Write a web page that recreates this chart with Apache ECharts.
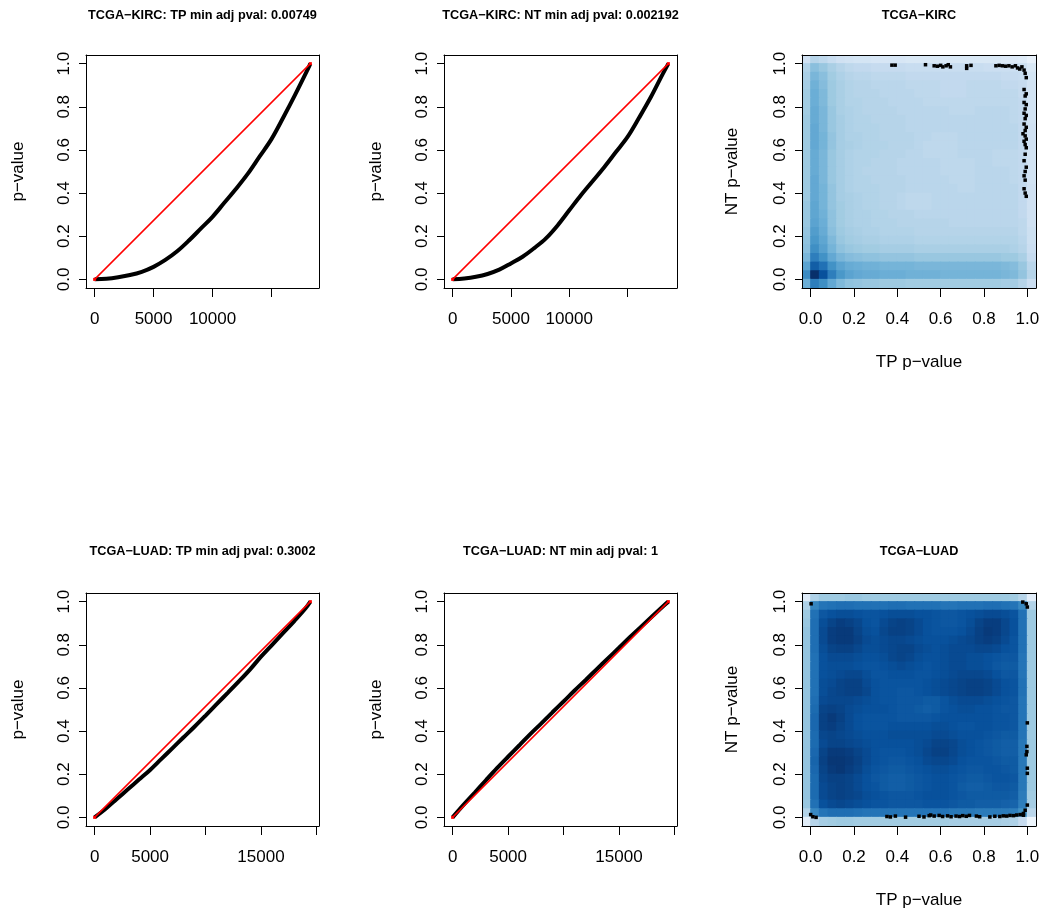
<!DOCTYPE html>
<html><head><meta charset="utf-8">
<script src="https://cdn.jsdelivr.net/npm/echarts@6/dist/echarts.min.js"></script>
<style>html,body{margin:0;padding:0;background:#fff}#c{width:1044px;height:913px}</style>
</head><body><div id="c"></div><script>
// ---------------- data ----------------
const titles = [
  'TCGA\u2212KIRC: TP min adj pval: 0.00749',
  'TCGA\u2212KIRC: NT min adj pval: 0.002192',
  'TCGA\u2212KIRC',
  'TCGA\u2212LUAD: TP min adj pval: 0.3002',
  'TCGA\u2212LUAD: NT min adj pval: 1',
  'TCGA\u2212LUAD'
];
const pTicks = [0, 0.2, 0.4, 0.6, 0.8, 1.0];
const kircRankTicks = [0, 5000, 10000, 15000];
const kircRankLabels = [0, 5000, 10000];
const luadRankTicks = [0, 5000, 10000, 15000, 20000];
const luadRankLabels = [0, 5000, 15000];

const kircTpN = 18300, kircNtN = 18500, luadTpN = 19450, luadNtN = 19450;

const kircTpRank = [0,1000,2000,3000,4000,5000,6000,7000,8000,9000,10000,11000,12000,13000,14000,15000,16000,17000,18000,18300];
const kircTpP    = [0,0.003,0.01,0.02,0.035,0.058,0.09,0.13,0.18,0.235,0.29,0.355,0.42,0.49,0.57,0.65,0.75,0.855,0.965,1.0];
const kircNtRank = [0,1000,2000,3000,4000,5000,6000,7000,8000,9000,10000,11000,12000,13000,14000,15000,16000,17000,18000,18500];
const kircNtP    = [0,0.004,0.012,0.025,0.045,0.074,0.105,0.145,0.19,0.25,0.32,0.39,0.455,0.52,0.59,0.66,0.75,0.845,0.95,1.0];
const luadTpRank = [0,1000,2000,3000,4000,5000,6000,7000,8000,9000,10000,11000,12000,13000,14000,15000,16000,17000,18000,19000,19450];
const luadTpP    = [0,0.04,0.085,0.13,0.175,0.22,0.27,0.32,0.37,0.42,0.472,0.525,0.577,0.63,0.685,0.745,0.8,0.855,0.91,0.968,1.0];
const luadNtRank = [0,1000,2000,3000,4000,5000,6000,7000,8000,9000,10000,11000,12000,13000,14000,15000,16000,17000,18000,19000,19450];
const luadNtP    = [0,0.059,0.115,0.172,0.228,0.281,0.333,0.386,0.436,0.487,0.537,0.588,0.637,0.687,0.737,0.786,0.836,0.884,0.932,0.98,1.0];

// density cells (bin centres, width 0.04); rows listed from top (1.02) to bottom (-0.02); values = colour level 0..9
const densityCells = [-0.02,0.02,0.06,0.10,0.14,0.18,0.22,0.26,0.30,0.34,0.38,0.42,0.46,0.50,0.54,0.58,0.62,0.66,0.70,0.74,0.78,0.82,0.86,0.90,0.94,0.98,1.02];
const densityCellWidth = 0.04;
const kircDensity = [
[2.6,3.4,3.2,2.9,2.6, 2.5,2.4,2.4,2.3,2.3, 2.3,2.3,2.2,2.2,2.2, 2.2,2.2,2.2,2.2,2.2, 2.2,2.2,2.2,2.1,2.1, 2.0,1.6],
[3.5,4.4,4.1,3.7,3.4, 3.2,3.1,3.1,3.0,3.0, 3.0,3.0,2.9,2.9,2.9, 2.9,2.9,2.9,2.9,2.9, 2.9,2.8,2.8,2.8,2.8, 2.7,2.2],
[3.7,4.7,4.4,3.9,3.6, 3.4,3.3,3.3,3.2,3.2, 3.2,3.2,3.1,3.1,3.1, 3.1,3.1,3.1,3.1,3.1, 3.1,3.1,3.1,3.0,3.0, 2.9,2.4],
[3.8,4.9,4.5,4.0,3.7, 3.5,3.4,3.4,3.3,3.3, 3.3,3.3,3.2,3.2,3.2, 3.2,3.1,3.1,3.1,3.2, 3.2,3.2,3.2,3.1,3.1, 3.0,2.5],
[3.9,5.0,4.6,4.0,3.7, 3.5,3.4,3.4,3.4,3.3, 3.3,3.3,3.3,3.2,3.2, 3.2,3.1,3.1,3.1,3.2, 3.2,3.2,3.2,3.2,3.2, 3.0,2.5],
[3.9,5.0,4.6,4.0,3.7, 3.5,3.5,3.4,3.4,3.4, 3.3,3.3,3.3,3.3,3.2, 3.2,3.2,3.2,3.2,3.2, 3.2,3.2,3.2,3.2,3.2, 3.1,2.5],
[3.9,5.1,4.7,4.1,3.7, 3.6,3.5,3.4,3.4,3.4, 3.4,3.3,3.3,3.3,3.3, 3.3,3.3,3.2,3.2,3.2, 3.3,3.3,3.3,3.3,3.2, 3.1,2.5],
[4.0,5.1,4.7,4.1,3.8, 3.6,3.5,3.5,3.4,3.4, 3.4,3.4,3.3,3.3,3.3, 3.3,3.3,3.3,3.3,3.3, 3.3,3.3,3.3,3.3,3.2, 3.1,2.5],
[4.0,5.2,4.7,4.1,3.8, 3.6,3.5,3.5,3.5,3.4, 3.4,3.4,3.3,3.3,3.3, 3.3,3.3,3.3,3.3,3.3, 3.3,3.3,3.3,3.3,3.3, 3.1,2.6],
[4.0,5.2,4.8,4.2,3.8, 3.6,3.6,3.5,3.5,3.4, 3.4,3.4,3.4,3.3,3.3, 3.2,3.2,3.2,3.3,3.3, 3.3,3.3,3.3,3.3,3.3, 3.1,2.6],
[4.0,5.2,4.8,4.2,3.8, 3.7,3.6,3.5,3.5,3.5, 3.4,3.4,3.4,3.3,3.2, 3.2,3.2,3.2,3.3,3.3, 3.3,3.3,3.3,3.3,3.3, 3.1,2.6],
[4.0,5.1,4.7,4.1,3.8, 3.6,3.5,3.5,3.5,3.4, 3.4,3.4,3.3,3.3,3.2, 3.2,3.2,3.2,3.3,3.3, 3.3,3.3,3.2,3.2,3.2, 3.1,2.5],
[4.0,5.1,4.7,4.1,3.8, 3.6,3.5,3.5,3.4,3.4, 3.4,3.3,3.3,3.3,3.3, 3.3,3.2,3.2,3.2,3.2, 3.3,3.3,3.2,3.2,3.2, 3.1,2.5],
[4.0,5.1,4.7,4.1,3.8, 3.6,3.5,3.4,3.4,3.4, 3.4,3.3,3.3,3.3,3.3, 3.3,3.2,3.2,3.2,3.2, 3.3,3.3,3.3,3.3,3.2, 3.1,2.5],
[4.0,5.2,4.7,4.1,3.8, 3.6,3.5,3.5,3.4,3.4, 3.4,3.4,3.3,3.3,3.3, 3.3,3.3,3.2,3.2,3.2, 3.3,3.3,3.3,3.3,3.2, 3.1,2.5],
[4.0,5.2,4.8,4.2,3.8, 3.6,3.5,3.5,3.5,3.4, 3.4,3.4,3.3,3.3,3.3, 3.3,3.3,3.3,3.2,3.2, 3.3,3.3,3.3,3.3,3.3, 3.1,2.6],
[4.0,5.2,4.8,4.2,3.8, 3.7,3.6,3.5,3.5,3.4, 3.4,3.3,3.2,3.2,3.2, 3.3,3.3,3.3,3.3,3.3, 3.3,3.3,3.3,3.3,3.3, 3.1,2.6],
[4.1,5.3,4.8,4.2,3.9, 3.7,3.6,3.5,3.5,3.4, 3.4,3.3,3.2,3.2,3.2, 3.3,3.3,3.3,3.3,3.3, 3.3,3.3,3.3,3.3,3.3, 3.1,2.6],
[4.1,5.3,4.9,4.3,3.9, 3.7,3.6,3.6,3.5,3.5, 3.4,3.4,3.4,3.3,3.3, 3.3,3.3,3.3,3.3,3.3, 3.3,3.3,3.3,3.3,3.3, 3.1,2.6],
[4.1,5.4,5.0,4.3,3.9, 3.7,3.6,3.6,3.5,3.5, 3.5,3.4,3.4,3.4,3.4, 3.4,3.4,3.3,3.3,3.3, 3.3,3.3,3.3,3.3,3.3, 3.2,2.6],
[4.2,5.6,5.1,4.4,4.0, 3.8,3.7,3.6,3.6,3.5, 3.5,3.5,3.5,3.4,3.4, 3.4,3.4,3.4,3.4,3.4, 3.4,3.4,3.4,3.4,3.4, 3.2,2.7],
[4.3,5.8,5.3,4.6,4.1, 3.9,3.8,3.7,3.7,3.6, 3.6,3.6,3.6,3.5,3.5, 3.5,3.5,3.5,3.5,3.5, 3.5,3.5,3.5,3.5,3.5, 3.3,2.7],
[4.4,6.1,5.5,4.8,4.3, 4.1,4.0,3.9,3.9,3.8, 3.8,3.8,3.8,3.7,3.7, 3.7,3.7,3.7,3.7,3.7, 3.7,3.7,3.7,3.7,3.6, 3.4,2.8],
[4.7,6.6,6.0,5.2,4.7, 4.5,4.4,4.3,4.3,4.2, 4.2,4.2,4.2,4.1,4.1, 4.1,4.1,4.1,4.1,4.1, 4.1,4.1,4.1,4.0,4.0, 3.7,3.0],
[5.4,7.6,7.0,6.0,5.4, 5.1,5.0,4.9,4.9,4.8, 4.8,4.8,4.8,4.7,4.7, 4.7,4.7,4.7,4.7,4.7, 4.7,4.7,4.7,4.6,4.5, 4.1,3.3],
[6.2,9.0,8.0,6.6,5.8, 5.4,5.2,5.1,5.1,5.0, 5.0,5.0,4.9,4.9,4.9, 4.9,4.8,4.8,4.8,4.8, 4.8,4.8,4.8,4.7,4.6, 4.2,3.4],
[5.0,6.6,6.1,5.2,4.6, 4.3,4.2,4.1,4.1,4.0, 4.0,4.0,3.9,3.9,3.9, 3.9,3.9,3.9,3.9,3.9, 3.9,3.9,3.9,3.8,3.8, 3.4,2.8]
];
const luadDensity = [
[2.0,3.6,4.0,4.0,4.0, 4.1,4.1,4.0,4.0,4.0, 4.0,4.0,4.0,4.0,4.0, 4.0,4.0,4.0,4.0,4.0, 4.0,4.0,4.0,4.0,3.9, 3.4,1.8],
[3.6,6.4,6.9,7.0,7.1, 7.1,7.0,7.0,7.0,7.0, 7.1,7.1,7.0,7.0,7.0, 7.0,6.9,6.9,7.0,7.0, 7.0,7.1,7.1,7.0,6.9, 6.3,3.5],
[4.0,7.0,7.8,8.0,8.1, 8.1,8.0,7.9,7.9,8.0, 8.1,8.1,8.1,8.0,8.0, 7.9,7.8,7.8,7.9,8.0, 8.1,8.2,8.2,8.1,7.9, 7.0,4.0],
[4.1,7.1,8.1,8.4,8.6, 8.5,8.3,8.0,7.9,8.2, 8.4,8.5,8.4,8.2,8.0, 7.9,7.8,7.8,7.9,8.1, 8.4,8.6,8.6,8.3,8.0, 7.0,4.0],
[4.2,7.1,8.2,8.6,8.7, 8.7,8.4,8.1,8.0,8.3, 8.5,8.5,8.4,8.2,8.0, 7.9,7.9,7.9,8.0,8.2, 8.5,8.7,8.6,8.3,8.0, 7.0,4.0],
[4.2,7.1,8.2,8.6,8.7, 8.7,8.5,8.2,8.1,8.2, 8.3,8.3,8.2,8.1,8.0, 8.0,8.0,8.1,8.2,8.3, 8.5,8.6,8.5,8.2,7.9, 7.0,4.0],
[4.2,7.1,8.1,8.4,8.5, 8.5,8.3,8.1,8.1,8.2, 8.3,8.4,8.4,8.2,8.1, 8.0,8.1,8.2,8.2,8.2, 8.3,8.3,8.2,8.0,7.9, 7.0,4.0],
[4.2,7.0,8.0,8.2,8.2, 8.2,8.1,8.0,8.0,8.1, 8.3,8.4,8.3,8.1,8.0, 8.0,8.1,8.2,8.2,8.1, 8.1,8.0,7.9,7.8,7.8, 6.9,4.0],
[4.2,7.0,8.0,8.1,8.1, 8.1,8.0,7.9,7.9,8.0, 8.1,8.2,8.1,8.0,7.9, 8.0,8.1,8.2,8.2,8.1, 8.1,8.0,7.8,7.7,7.7, 6.9,4.0],
[4.2,7.0,8.0,8.1,8.2, 8.3,8.3,8.1,7.9,7.9, 8.0,8.0,8.0,7.9,7.9, 8.0,8.1,8.2,8.3,8.3, 8.3,8.2,8.0,7.8,7.8, 6.9,4.0],
[4.2,7.0,8.1,8.2,8.4, 8.5,8.5,8.2,8.0,7.9, 7.9,7.9,7.9,7.9,8.0, 8.1,8.2,8.3,8.4,8.5, 8.5,8.4,8.2,8.0,7.9, 7.0,4.0],
[4.2,7.0,8.1,8.3,8.4, 8.5,8.5,8.3,8.0,7.9, 7.9,7.8,7.8,7.9,8.0, 8.1,8.2,8.3,8.4,8.5, 8.5,8.4,8.2,8.0,7.9, 7.0,4.0],
[4.2,7.1,8.2,8.3,8.3, 8.3,8.2,8.1,8.0,7.9, 7.9,7.8,7.8,7.8,7.7, 7.7,7.9,8.1,8.2,8.2, 8.2,8.1,8.0,7.9,7.8, 6.9,4.0],
[4.2,7.2,8.4,8.5,8.4, 8.2,8.1,8.0,8.0,8.0, 7.9,7.8,7.8,7.7,7.6, 7.7,7.9,8.0,8.1,8.1, 8.0,8.0,7.9,7.8,7.8, 6.9,4.0],
[4.2,7.3,8.5,8.7,8.5, 8.2,8.0,7.9,7.9,7.9, 7.9,7.8,7.8,7.8,7.8, 7.9,8.0,8.0,8.0,8.0, 8.0,8.0,7.9,7.9,7.8, 6.9,4.0],
[4.2,7.3,8.5,8.6,8.4, 8.2,8.0,7.9,7.9,7.9, 8.0,8.0,8.0,8.0,8.0, 8.1,8.1,8.0,7.9,7.9, 8.0,8.0,7.9,7.9,7.8, 6.9,4.0],
[4.2,7.2,8.3,8.4,8.3, 8.2,8.1,8.0,8.0,8.0, 8.1,8.1,8.1,8.1,8.1, 8.2,8.2,8.1,8.0,8.0, 8.0,7.9,7.8,7.7,7.7, 6.9,4.0],
[4.2,7.2,8.2,8.4,8.4, 8.3,8.2,8.1,8.0,8.0, 8.0,8.0,8.0,8.1,8.2, 8.4,8.4,8.3,8.1,8.0, 7.9,7.8,7.7,7.6,7.6, 6.8,4.0],
[4.2,7.3,8.4,8.7,8.7, 8.6,8.4,8.2,8.0,7.9, 7.9,7.9,8.0,8.1,8.3, 8.5,8.5,8.3,8.1,8.0, 7.9,7.8,7.7,7.6,7.6, 6.8,4.0],
[4.2,7.4,8.5,8.8,8.8, 8.7,8.5,8.2,8.0,7.9, 7.8,7.8,7.9,8.0,8.2, 8.3,8.3,8.2,8.0,7.9, 7.9,7.9,7.8,7.7,7.7, 6.8,4.0],
[4.2,7.3,8.4,8.7,8.8, 8.6,8.4,8.1,7.9,7.8, 7.7,7.7,7.8,7.9,8.0, 8.1,8.1,8.0,7.9,7.8, 7.8,7.9,7.9,7.8,7.7, 6.8,4.0],
[4.2,7.2,8.3,8.5,8.5, 8.4,8.2,8.0,7.8,7.7, 7.6,7.6,7.7,7.8,7.9, 8.0,8.0,7.9,7.8,7.7, 7.7,7.8,7.9,7.9,7.8, 6.8,4.0],
[4.2,7.2,8.2,8.4,8.5, 8.4,8.2,8.0,7.9,7.7, 7.6,7.6,7.7,7.8,7.9, 8.0,8.0,7.9,7.7,7.6, 7.6,7.7,7.8,7.8,7.7, 6.8,4.0],
[4.2,7.2,8.2,8.4,8.5, 8.4,8.3,8.1,8.0,7.9, 7.8,7.8,7.8,7.9,8.0, 8.0,8.0,7.9,7.8,7.7, 7.7,7.7,7.7,7.7,7.6, 6.7,3.9],
[4.1,7.0,8.0,8.2,8.3, 8.2,8.1,8.0,7.9,7.9, 7.8,7.8,7.8,7.8,7.9, 7.9,7.9,7.8,7.7,7.7, 7.6,7.6,7.6,7.5,7.4, 6.6,3.8],
[3.5,6.3,6.9,7.1,7.1, 7.1,7.0,6.9,6.9,6.9, 6.9,6.9,6.9,6.9,6.9, 6.9,6.9,6.8,6.8,6.8, 6.7,6.7,6.7,6.7,6.6, 6.0,3.3],
[1.9,3.4,3.8,3.9,4.0, 4.0,3.9,3.9,3.9,3.9, 3.9,3.9,3.9,3.9,3.9, 3.9,3.9,3.8,3.8,3.8, 3.8,3.8,3.8,3.7,3.6, 3.0,1.4]
];

// outlying points drawn by smoothScatter: [TP p-value, NT p-value]
const kircOutliers = [
[0.375,0.993],[0.39,0.993],[0.53,0.995],[0.57,0.99],[0.585,0.988],[0.60,0.992],[0.61,0.985],[0.625,0.99],[0.635,0.995],[0.645,0.985],
[0.72,0.99],[0.72,0.978],[0.74,0.992],[0.855,0.99],[0.87,0.992],[0.885,0.99],[0.90,0.988],[0.915,0.99],[0.93,0.985],[0.945,0.99],
[0.955,0.98],[0.965,0.975],[0.975,0.985],[0.985,0.97],
[0.99,0.955],[0.995,0.935],[0.985,0.88],[0.995,0.86],[0.99,0.85],[0.985,0.82],[0.995,0.81],[0.99,0.79],[0.985,0.77],[0.995,0.76],
[0.99,0.745],[0.985,0.72],[0.995,0.705],[0.99,0.69],[0.98,0.675],[0.99,0.665],[0.995,0.65],[0.985,0.64],[0.99,0.625],[0.995,0.61],
[0.99,0.58],[0.985,0.55],[0.995,0.52],[0.99,0.5],[0.985,0.48],[0.99,0.46],[0.985,0.42],[0.99,0.4],[0.995,0.385]
];
const luadOutliers = [
[0.002,0.99],[0.979,0.998],[0.995,0.99],[1.0,0.975],[1.0,0.438],[0.998,0.329],[0.998,0.305],[0.995,0.29],[1.0,0.228],[1.0,0.204],
[1.0,0.057],[0.99,0.033],[0.982,0.018],[0.0,0.013],[0.01,0.003],[0.025,0.0],
[0.352,0.004],[0.368,0.002],[0.391,0.006],[0.438,0.001],[0.50,0.005],[0.523,0.002],[0.547,0.008],[0.554,0.011],[0.57,0.006],
[0.593,0.009],[0.609,0.004],[0.632,0.007],[0.648,0.003],[0.671,0.006],[0.687,0.004],[0.702,0.008],[0.718,0.005],[0.733,0.009],
[0.765,0.006],[0.78,0.003],[0.827,0.002],[0.85,0.005],[0.873,0.004],[0.889,0.007],[0.905,0.006],[0.92,0.009],[0.936,0.008],
[0.951,0.011],[0.967,0.013],[0.982,0.01]
];

// ---------------- layout / style ----------------
const FONT = '"Liberation Sans", Arial, Helvetica, sans-serif';
const blues = ['#FFFFFF','#F7FBFF','#DEEBF7','#C6DBEF','#9ECAE1','#6BAED6','#4292C6','#2171B5','#08519C','#08306B'];
const gridBoxes = [
  {left:86, top:55, width:233, height:233},
  {left:444, top:55, width:233, height:233},
  {left:802, top:55, width:234, height:233},
  {left:86, top:593, width:233, height:233},
  {left:444, top:593, width:233, height:233},
  {left:802, top:593, width:234, height:233}
];
const titleTops = [8.5, 8.5, 8.5, 545, 545, 545];
const lineStyleBox = {color:'#000', width:1};
const labelFont = {fontSize:17, color:'#000', fontFamily:FONT};

const option = {animation:false, backgroundColor:'#fff', title:[], grid:[], xAxis:[], yAxis:[], series:[], visualMap:[]};

function addTitle(i) {
  const g = gridBoxes[i];
  option.title.push({text:titles[i], left:g.left + g.width/2, top:titleTops[i], textAlign:'center', padding:0,
    textStyle:{fontSize:12.7, fontWeight:'bold', color:'#000', fontFamily:FONT}});
}
function bottomX(i, min, max, ticks, labels, fmt, name) {
  return {gridIndex:i, type:'value', position:'bottom', min:min, max:max, z:5,
    name:name || '', nameLocation:'middle', nameGap:66, nameTextStyle:labelFont,
    splitLine:{show:false},
    axisLine:{show:true, onZero:false, lineStyle:lineStyleBox},
    axisTick:{show:true, length:9, customValues:ticks, lineStyle:lineStyleBox},
    axisLabel:Object.assign({show:true, customValues:labels, margin:23, formatter:fmt}, labelFont)};
}
function leftY(i, name, gap) {
  return {gridIndex:i, type:'value', position:'left', min:-0.04, max:1.04, z:5,
    name:name, nameLocation:'middle', nameGap:gap, nameRotate:90, nameTextStyle:labelFont,
    splitLine:{show:false},
    axisLine:{show:true, onZero:false, lineStyle:lineStyleBox},
    axisTick:{show:true, length:7, customValues:pTicks, lineStyle:lineStyleBox},
    axisLabel:Object.assign({show:true, customValues:pTicks, rotate:90, margin:13, formatter:v => v.toFixed(1)}, labelFont)};
}
function auxAxis(i, pos, min, max) {
  return {gridIndex:i, position:pos, type:'value', min:min, max:max, z:5, splitLine:{show:false},
    axisLine:{show:true, onZero:false, lineStyle:lineStyleBox}, axisTick:{show:false}, axisLabel:{show:false}};
}

function rankPanel(i, N, ranks, pvals, ticks, labels) {
  addTitle(i);
  option.grid.push(Object.assign({show:false}, gridBoxes[i]));
  const xmin = 1 - 0.04 * (N - 1), xmax = N + 0.04 * (N - 1);
  option.xAxis.push(bottomX(i, xmin, xmax, ticks, labels, v => String(v), ''));
  option.xAxis.push(auxAxis(i, 'top', xmin, xmax));
  option.yAxis.push(leftY(i, 'p\u2212value', 59.5));
  option.yAxis.push(auxAxis(i, 'right', -0.04, 1.04));
  option.series.push({type:'line', xAxisIndex:2*i, yAxisIndex:2*i, silent:true,
    data:ranks.map((r, k) => [r, pvals[k]]), showSymbol:false, symbol:'none',
    smooth:0.35, lineStyle:{color:'#000', width:4}});
  option.series.push({type:'line', xAxisIndex:2*i, yAxisIndex:2*i, silent:true,
    data:[[1, 0], [N, 1]], symbol:'rect', symbolSize:3, showSymbol:true,
    itemStyle:{color:'#ff0000'}, lineStyle:{color:'#ff0000', width:1.5}});
}

function densityPanel(i, matrix, outliers) {
  addTitle(i);
  option.grid.push(Object.assign({show:false}, gridBoxes[i]));
  option.xAxis.push(bottomX(i, -0.04, 1.04, pTicks, pTicks, v => v.toFixed(1), 'TP p\u2212value'));
  option.xAxis.push(auxAxis(i, 'top', -0.04, 1.04));
  option.yAxis.push(leftY(i, 'NT p\u2212value', 61));
  option.yAxis.push(auxAxis(i, 'right', -0.04, 1.04));
  const n = matrix.length;
  const cells = [];
  matrix.forEach((row, r) => row.forEach((v, c) => cells.push([densityCells[c], densityCells[n - 1 - r], v])));
  option.visualMap.push({show:false, seriesIndex:option.series.length, dimension:2, min:0, max:9,
    inRange:{color:blues}});
  option.series.push({type:'custom', xAxisIndex:2*i, yAxisIndex:2*i, data:cells, silent:true,
    encode:{x:0, y:1}, clip:true,
    renderItem:(params, api) => {
      const p = api.coord([api.value(0), api.value(1)]);
      const s = api.size([densityCellWidth, densityCellWidth]);
      return {type:'rect', shape:{x:p[0] - s[0]/2 - 0.5, y:p[1] - s[1]/2 - 0.5, width:s[0] + 1, height:s[1] + 1},
        style:{fill:api.visual('color')}};
    }});
  option.series.push({type:'scatter', xAxisIndex:2*i, yAxisIndex:2*i, data:outliers, silent:true,
    symbol:'rect', symbolSize:3.5, itemStyle:{color:'#000', opacity:1}});
}

rankPanel(0, kircTpN, kircTpRank, kircTpP, kircRankTicks, kircRankLabels);
rankPanel(1, kircNtN, kircNtRank, kircNtP, kircRankTicks, kircRankLabels);
densityPanel(2, kircDensity, kircOutliers);
rankPanel(3, luadTpN, luadTpRank, luadTpP, luadRankTicks, luadRankLabels);
rankPanel(4, luadNtN, luadNtRank, luadNtP, luadRankTicks, luadRankLabels);
densityPanel(5, luadDensity, luadOutliers);

const chart = echarts.init(document.getElementById('c'), null, {renderer:'canvas'});
chart.setOption(option);
</script></body></html>
